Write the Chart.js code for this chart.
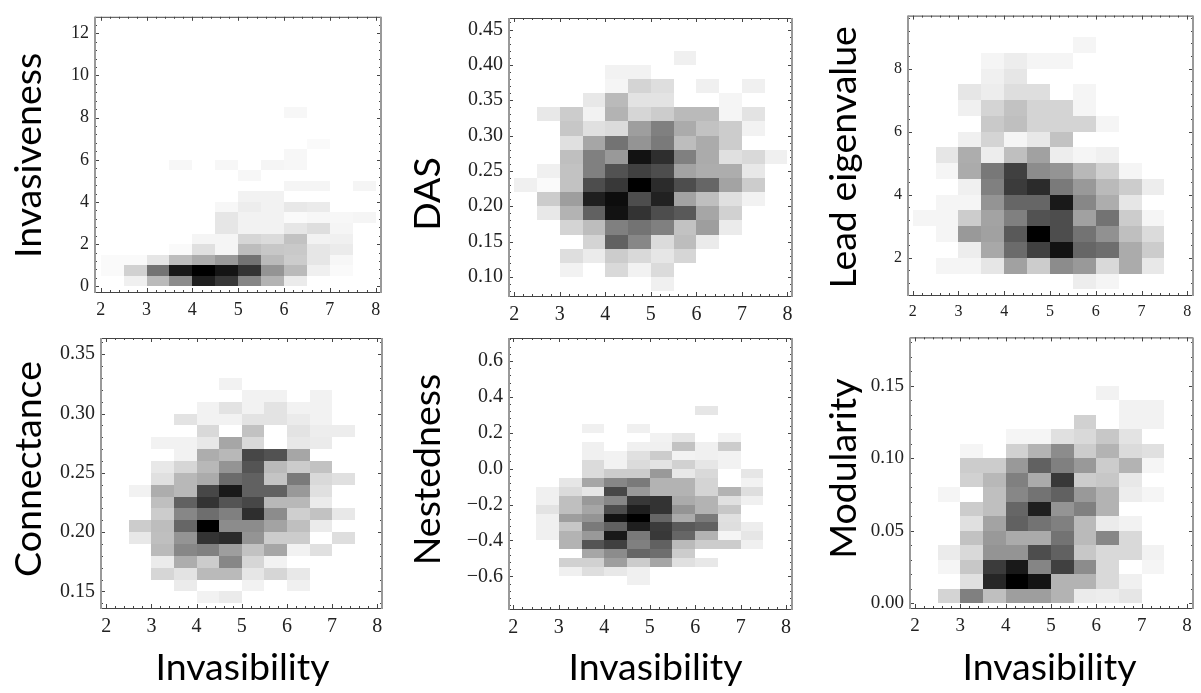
<!DOCTYPE html>
<html>
<head>
<meta charset="utf-8">
<title>Invasibility heat maps</title>
<script src="https://cdn.jsdelivr.net/npm/chart.js@4"></script>
<style>
    body { margin: 0; background: #fff; }
    canvas { position: absolute; }
</style>
</head>
<body>
<script>
// left edge of each invasibility bin
const xBins = [2, 2.5, 3, 3.5, 4, 4.5, 5, 5.5, 6, 6.5, 7, 7.5];
const xBinWidth = 0.5;
const xTicks = [2, 3, 4, 5, 6, 7, 8];

// rows go from the lowest y bin upwards, values are darkness 0-100 per xBins column
const invasivenessYBin = { start: 0, step: 0.5 };
const invasivenessTicks = [0, 2, 4, 6, 8, 10, 12];
const invasivenessRows = [
    [0, 6, 27, 45, 88, 78, 48, 30, 8, 0, 0, 0],
    [2, 18, 55, 90, 100, 92, 80, 42, 27, 6, 2, 0],
    [2, 2, 10, 26, 33, 40, 55, 27, 20, 10, 3, 0],
    [0, 0, 0, 2, 12, 4, 26, 22, 21, 10, 8, 0],
    [0, 0, 0, 0, 4, 4, 16, 14, 24, 5, 6, 0],
    [0, 0, 0, 0, 0, 10, 5, 5, 10, 13, 4, 0],
    [0, 0, 0, 0, 0, 10, 5, 5, 2, 3, 3, 4],
    [0, 0, 0, 0, 0, 3, 7, 5, 9, 8, 0, 0],
    [0, 0, 0, 0, 0, 0, 5, 5, 0, 0, 0, 0],
    [0, 0, 0, 0, 0, 0, 0, 0, 4, 4, 0, 4],
    [0, 0, 0, 0, 0, 0, 3, 0, 0, 0, 0, 0],
    [0, 0, 0, 3, 0, 3, 0, 4, 3, 0, 0, 0],
    [0, 0, 0, 0, 0, 0, 0, 0, 3, 0, 0, 0],
    [0, 0, 0, 0, 0, 0, 0, 0, 0, 2, 0, 0],
    [0, 0, 0, 0, 0, 0, 0, 0, 0, 0, 0, 0],
    [0, 0, 0, 0, 0, 0, 0, 0, 0, 0, 0, 0],
    [0, 0, 0, 0, 0, 0, 0, 0, 3, 0, 0, 0]
];

const dasYBin = { start: 0.08, step: 0.02 };
const dasTicks = [0.10, 0.15, 0.20, 0.25, 0.30, 0.35, 0.40, 0.45];
const dasRows = [
    [0, 0, 0, 0, 0, 0, 6, 0, 0, 0, 0, 0],
    [0, 0, 5, 0, 15, 5, 14, 0, 0, 0, 0, 0],
    [0, 0, 13, 8, 20, 15, 10, 16, 0, 0, 0, 0],
    [0, 0, 0, 17, 62, 47, 14, 26, 8, 0, 0, 0],
    [0, 0, 17, 26, 50, 55, 50, 24, 38, 8, 0, 0],
    [0, 9, 30, 62, 93, 80, 70, 65, 35, 18, 0, 0],
    [0, 20, 38, 88, 95, 70, 87, 36, 25, 12, 5, 0],
    [6, 2, 24, 70, 78, 100, 83, 70, 60, 36, 20, 0],
    [0, 6, 24, 50, 68, 75, 70, 36, 32, 32, 9, 0],
    [0, 0, 25, 50, 40, 93, 82, 50, 33, 12, 15, 6],
    [0, 0, 12, 35, 55, 42, 52, 26, 33, 20, 0, 0],
    [0, 0, 22, 12, 14, 38, 50, 33, 24, 20, 5, 0],
    [0, 9, 20, 5, 30, 16, 20, 27, 27, 4, 11, 0],
    [0, 0, 0, 9, 27, 11, 11, 0, 0, 4, 0, 0],
    [0, 0, 0, 0, 4, 17, 13, 0, 6, 0, 6, 0],
    [0, 0, 0, 0, 5, 5, 0, 0, 0, 0, 0, 0],
    [0, 0, 0, 0, 0, 0, 0, 6, 0, 0, 0, 0]
];

const eigenvalueYBin = { start: 1, step: 0.5 };
const eigenvalueTicks = [2, 4, 6, 8];
const eigenvalueRows = [
    [0, 0, 0, 0, 0, 0, 0, 7, 4, 0, 0, 0],
    [0, 4, 4, 10, 37, 20, 45, 40, 15, 33, 9, 0],
    [0, 0, 7, 34, 58, 75, 93, 60, 57, 33, 20, 0],
    [0, 4, 40, 37, 65, 100, 70, 55, 43, 25, 14, 0],
    [4, 4, 20, 36, 50, 68, 70, 37, 55, 20, 4, 0],
    [0, 4, 4, 42, 60, 60, 90, 47, 32, 10, 0, 0],
    [0, 0, 6, 50, 77, 83, 52, 40, 27, 20, 7, 0],
    [0, 4, 33, 53, 75, 45, 42, 28, 18, 4, 0, 0],
    [0, 10, 32, 7, 25, 37, 7, 4, 6, 0, 0, 0],
    [0, 0, 6, 17, 4, 9, 24, 0, 0, 0, 0, 0],
    [0, 0, 0, 21, 25, 17, 17, 17, 4, 0, 0, 0],
    [0, 0, 6, 17, 24, 17, 17, 4, 0, 0, 0, 0],
    [0, 0, 10, 7, 13, 13, 0, 4, 0, 0, 0, 0],
    [0, 0, 0, 6, 10, 0, 0, 0, 0, 0, 0, 0],
    [0, 0, 0, 4, 7, 4, 4, 0, 0, 0, 0, 0],
    [0, 0, 0, 0, 0, 0, 0, 4, 0, 0, 0, 0]
];

const connectanceYBin = { start: 0.14, step: 0.01 };
const connectanceTicks = [0.15, 0.20, 0.25, 0.30, 0.35];
const connectanceRows = [
    [0, 0, 0, 0, 5, 8, 0, 0, 0, 0, 0, 0],
    [0, 0, 0, 8, 0, 0, 5, 0, 6, 0, 0, 0],
    [0, 0, 16, 11, 27, 27, 10, 16, 9, 0, 0, 0],
    [0, 0, 8, 32, 20, 47, 16, 5, 0, 0, 0, 0],
    [0, 0, 27, 47, 50, 38, 24, 35, 5, 12, 0, 0],
    [0, 9, 25, 42, 80, 83, 42, 20, 20, 0, 13, 0],
    [0, 20, 26, 60, 100, 45, 45, 36, 25, 8, 0, 0],
    [0, 0, 20, 47, 57, 50, 82, 45, 19, 24, 9, 0],
    [0, 0, 25, 62, 80, 67, 72, 28, 28, 8, 0, 0],
    [0, 5, 32, 28, 72, 90, 62, 62, 40, 12, 0, 0],
    [0, 0, 12, 28, 33, 58, 62, 23, 52, 15, 12, 0],
    [0, 0, 9, 16, 28, 42, 67, 27, 20, 24, 0, 0],
    [0, 0, 0, 5, 32, 28, 72, 68, 35, 0, 0, 0],
    [0, 0, 5, 5, 9, 35, 15, 0, 9, 8, 0, 0],
    [0, 0, 0, 0, 15, 0, 24, 0, 11, 7, 7, 0],
    [0, 0, 0, 11, 5, 5, 11, 11, 8, 5, 0, 0],
    [0, 0, 0, 0, 5, 11, 5, 11, 5, 5, 0, 0],
    [0, 0, 0, 0, 0, 0, 5, 5, 0, 5, 0, 0],
    [0, 0, 0, 0, 0, 5, 0, 0, 0, 0, 0, 0]
];

const nestednessYBin = { start: -0.65, step: 0.05 };
const nestednessTicks = [-0.6, -0.4, -0.2, 0, 0.2, 0.4, 0.6];
const nestednessRows = [
    [0, 0, 0, 0, 0, 6, 0, 0, 0, 0, 0, 0],
    [0, 0, 6, 13, 9, 6, 0, 0, 0, 0, 0, 0],
    [0, 0, 18, 18, 38, 20, 35, 12, 9, 0, 0, 0],
    [0, 0, 0, 35, 45, 60, 57, 20, 0, 0, 0, 0],
    [0, 0, 30, 67, 75, 50, 62, 27, 20, 20, 6, 0],
    [0, 6, 30, 40, 90, 52, 78, 60, 30, 4, 10, 0],
    [0, 6, 22, 52, 62, 88, 77, 65, 62, 13, 7, 0],
    [0, 6, 38, 42, 93, 100, 60, 33, 52, 12, 0, 0],
    [0, 11, 25, 35, 70, 88, 80, 42, 30, 22, 0, 0],
    [0, 6, 25, 40, 47, 78, 80, 33, 30, 12, 6, 0],
    [0, 6, 14, 10, 72, 40, 30, 30, 17, 30, 13, 0],
    [0, 0, 10, 35, 47, 52, 30, 30, 17, 0, 5, 0],
    [0, 0, 0, 14, 20, 20, 40, 9, 15, 0, 10, 0],
    [0, 0, 0, 14, 5, 14, 11, 18, 10, 5, 0, 0],
    [0, 0, 0, 6, 5, 12, 20, 5, 6, 5, 0, 0],
    [0, 0, 0, 6, 0, 6, 6, 24, 6, 20, 0, 0],
    [0, 0, 0, 0, 0, 0, 5, 10, 0, 5, 0, 0],
    [0, 0, 0, 6, 0, 6, 0, 0, 0, 0, 0, 0],
    [0, 0, 0, 0, 0, 0, 0, 0, 0, 0, 0, 0],
    [0, 0, 0, 0, 0, 0, 0, 0, 10, 0, 0, 0]
];

const modularityYBin = { start: 0, step: 0.01 };
const modularityTicks = [0, 0.05, 0.10, 0.15];
const modularityRows = [
    [0, 17, 50, 25, 38, 38, 30, 8, 7, 10, 0, 0],
    [0, 0, 12, 85, 100, 92, 30, 30, 15, 6, 0, 0],
    [0, 4, 22, 77, 90, 48, 75, 45, 15, 0, 4, 0],
    [0, 8, 15, 42, 42, 70, 62, 22, 15, 15, 5, 0],
    [0, 0, 24, 40, 33, 33, 55, 27, 47, 15, 0, 0],
    [0, 0, 12, 36, 62, 55, 50, 27, 8, 5, 0, 0],
    [0, 0, 20, 25, 60, 88, 42, 50, 30, 0, 0, 0],
    [0, 4, 0, 25, 47, 55, 62, 40, 30, 7, 4, 0],
    [0, 0, 18, 28, 50, 33, 78, 20, 22, 9, 0, 0],
    [0, 0, 20, 20, 40, 62, 50, 40, 20, 30, 4, 0],
    [0, 0, 4, 0, 18, 30, 45, 20, 30, 14, 12, 0],
    [0, 0, 0, 0, 4, 4, 12, 15, 22, 11, 0, 0],
    [0, 0, 0, 0, 0, 0, 0, 18, 0, 5, 5, 0],
    [0, 0, 0, 0, 0, 0, 0, 0, 0, 5, 5, 0],
    [0, 0, 0, 0, 0, 0, 0, 0, 5, 0, 0, 0]
];

// plot box is left, top, right, bottom in page pixels
const panels = [
    { title: 'Invasiveness', rows: invasivenessRows, bin: invasivenessYBin, ticks: invasivenessTicks, decimals: 0,
      x: [1.876, 8.116], y: [-0.27, 12.78], box: [95, 7, 381, 292], canvas: [6, 0, 390, 320], font: 18, titleShift: 1 },
    { title: 'DAS', rows: dasRows, bin: dasYBin, ticks: dasTicks, decimals: 2,
      x: [1.884, 8.10], y: [0.073, 0.4663], box: [509, 14, 792, 296], canvas: [405, 0, 800, 320], font: 20, titleShift: 37 },
    { title: 'Lead eigenvalue', rows: eigenvalueRows, bin: eigenvalueYBin, ticks: eigenvalueTicks, decimals: 0,
      x: [1.897, 8.124], y: [0.82, 9.68], box: [908, 9, 1193, 295], canvas: [821, 0, 1201, 320], font: 16, titleShift: 2 },
    { title: 'Connectance', rows: connectanceRows, bin: connectanceYBin, ticks: connectanceTicks, decimals: 2,
      x: [1.884, 8.104], y: [0.136, 0.3637], box: [101, 327, 382, 608], canvas: [6, 320, 390, 690], font: 20, titleShift: -4, xShift: 1 },
    { title: 'Nestedness', rows: nestednessRows, bin: nestednessYBin, ticks: nestednessTicks, decimals: 1,
      x: [1.905, 8.13], y: [-0.782, 0.728], box: [509, 327, 792, 609], canvas: [405, 320, 800, 690], font: 20, titleShift: -4, xShift: 5 },
    { title: 'Modularity', rows: modularityRows, bin: modularityYBin, ticks: modularityTicks, decimals: 2,
      x: [1.89, 8.132], y: [-0.0033, 0.1833], box: [910, 327, 1193, 608], canvas: [821, 320, 1201, 690], font: 19, titleShift: -4, xShift: -2 }
];

function grayFor(v) {
    const g = Math.round(255 * (1 - v / 100));
    return `rgb(${g},${g},${g})`;
}

function minusSign(text) {
    return text.replace('-', '\u2212');
}

// the heat cells, sized through the chart scales and softened a little like the scanned original
const heatCells = {
    id: 'heatCells',
    beforeDatasetsDraw(chart) {
        const { x, y } = chart.scales;
        const dataset = chart.data.datasets[0];
        const layer = document.createElement('canvas');
        layer.width = chart.width;
        layer.height = chart.height;
        const layerCtx = layer.getContext('2d');
        dataset.data.forEach(cell => {
            const left = Math.round(x.getPixelForValue(cell.x));
            const right = Math.round(x.getPixelForValue(cell.x + xBinWidth));
            const bottom = Math.round(y.getPixelForValue(cell.y));
            const top = Math.round(y.getPixelForValue(cell.y + dataset.yStep));
            layerCtx.fillStyle = grayFor(cell.v);
            layerCtx.fillRect(left, top, right - left, bottom - top);
        });
        chart.ctx.save();
        chart.ctx.filter = 'blur(0.7px)';
        chart.ctx.drawImage(layer, 0, 0);
        chart.ctx.restore();
    }
};

// frame with inward ticks on all four sides, like the original plots
const frameTicks = {
    id: 'frameTicks',
    afterDatasetsDraw(chart) {
        const ctx = chart.ctx;
        const { left, right, top, bottom } = chart.chartArea;
        const { x, y } = chart.scales;
        ctx.save();
        ctx.strokeStyle = '#444';
        ctx.lineWidth = 1;
        ctx.beginPath();
        const mark = (a, b, c, d) => { ctx.moveTo(a, b); ctx.lineTo(c, d); };
        [[x, xTicks], [y, chart.config.options.yTickValues]].forEach(([scale, majors], axis) => {
            const step = (majors[1] - majors[0]) / 5;
            for (let i = -5; i <= (majors.length - 1) * 5 + 5; i++) {
                const value = majors[0] + i * step;
                if (value < scale.min || value > scale.max) continue;
                const p = Math.round(scale.getPixelForValue(value)) + 0.5;
                const len = i % 5 === 0 ? 4 : 2;
                if (axis === 0) {
                    mark(p, bottom, p, bottom - len);
                    mark(p, top, p, top + len);
                } else {
                    mark(left, p, left + len, p);
                    mark(right, p, right - len, p);
                }
            }
        });
        mark(left, top + 0.5, right, top + 0.5);
        mark(left, bottom + 0.5, right, bottom + 0.5);
        ctx.stroke();
        ctx.strokeStyle = '#999';
        ctx.lineWidth = 2;
        ctx.beginPath();
        mark(left, top, left, bottom + 1);
        mark(right, top, right, bottom + 1);
        ctx.stroke();
        ctx.restore();
    }
};

// moves the axis title along its axis so it sits where the original has it
const titleShift = {
    id: 'titleShift',
    afterLayout(chart) {
        const shifts = chart.config.options.titleShifts;
        [['x', shifts.x, 0], ['y', 0, shifts.y]].forEach(([id, dx, dy]) => {
            const scale = chart.scales[id];
            const drawTitle = scale.drawTitle;
            if (scale.shifted) return;
            scale.shifted = true;
            scale.drawTitle = function () {
                chart.ctx.save();
                chart.ctx.translate(dx, dy);
                drawTitle.call(scale);
                chart.ctx.restore();
            };
        });
    }
};

panels.forEach((panel, index) => {
    const [cLeft, cTop, cRight, cBottom] = panel.canvas;
    const [left, top, right, bottom] = panel.box;

    const canvas = document.createElement('canvas');
    canvas.width = cRight - cLeft;
    canvas.height = cBottom - cTop;
    canvas.style.left = cLeft + 'px';
    canvas.style.top = cTop + 'px';
    document.body.appendChild(canvas);

    const cells = [];
    panel.rows.forEach((row, r) => {
        row.forEach((v, c) => {
            if (v > 0) cells.push({ x: xBins[c], y: panel.bin.start + r * panel.bin.step, v: v });
        });
    });

    const tickFont = { family: '"Liberation Serif"', size: panel.font };
    const titleFont = { family: 'Lato', size: 37.5 };

    new Chart(canvas, {
        type: 'scatter',
        data: {
            datasets: [{ label: panel.title, data: cells, yStep: panel.bin.step, pointRadius: 0 }]
        },
        options: {
            responsive: false,
            animation: false,
            yTickValues: panel.ticks,
            titleShifts: { x: panel.xShift || 0, y: panel.titleShift },
            layout: { padding: { top: top - cTop, right: cRight - right, left: 0, bottom: 0 } },
            plugins: { legend: { display: false }, tooltip: { enabled: false } },
            scales: {
                x: {
                    type: 'linear',
                    min: panel.x[0],
                    max: panel.x[1],
                    grid: { display: false, drawTicks: false },
                    border: { display: false },
                    afterBuildTicks: scale => { scale.ticks = xTicks.map(v => ({ value: v })); },
                    afterFit: scale => { scale.height = cBottom - bottom; },
                    ticks: { font: tickFont, color: '#222', padding: 7, maxRotation: 0, autoSkip: false,
                        callback: value => String(value) },
                    title: { display: index >= 3, text: 'Invasibility', font: titleFont, color: '#000', padding: 0 }
                },
                y: {
                    type: 'linear',
                    min: panel.y[0],
                    max: panel.y[1],
                    grid: { display: false, drawTicks: false },
                    border: { display: false },
                    afterBuildTicks: scale => { scale.ticks = panel.ticks.map(v => ({ value: v })); },
                    afterFit: scale => { scale.width = left - cLeft; },
                    ticks: { font: tickFont, color: '#222', padding: 6, autoSkip: false,
                        callback: value => minusSign(value.toFixed(panel.decimals)) },
                    title: { display: true, text: panel.title, font: titleFont, color: '#000', padding: 0 }
                }
            }
        },
        plugins: [heatCells, frameTicks, titleShift]
    });
});
</script>
</body>
</html>
